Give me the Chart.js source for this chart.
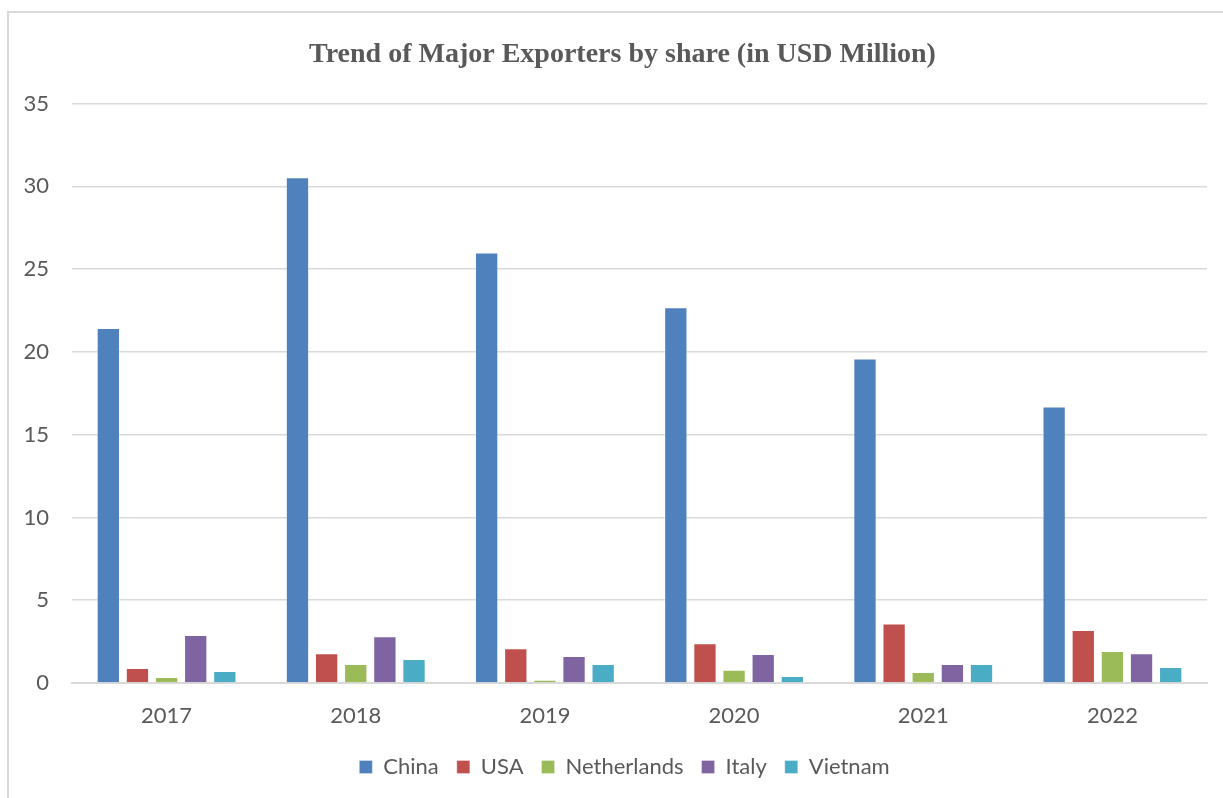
<!DOCTYPE html>
<html>
<head>
<meta charset="utf-8">
<script src="https://cdn.jsdelivr.net/npm/chart.js@4/dist/chart.umd.min.js"></script>
<style>
  html, body { margin: 0; padding: 0; background: #fff; }
  #wrap { position: relative; width: 1223px; height: 798px; overflow: hidden; }
  #frame { position: absolute; left: 7px; top: 11px; width: 1240px; height: 820px; border: 2px solid #d9d9d9; box-sizing: border-box; }
  #chartBox { position: absolute; left: 0; top: 0; width: 1223px; height: 798px; }
</style>
</head>
<body>
<div id="wrap">
  <div id="frame"></div>
  <div id="chartBox"><canvas id="barChart"></canvas></div>
</div>
<script>
var years = ['2017', '2018', '2019', '2020', '2021', '2022'];
var china = [21.45, 30.55, 26.0, 22.7, 19.6, 16.7];
var usa = [0.9, 1.8, 2.1, 2.4, 3.6, 3.2];
var netherlands = [0.36, 1.15, 0.2, 0.8, 0.66, 1.93];
var italy = [2.9, 2.83, 1.63, 1.75, 1.15, 1.8];
var vietnam = [0.73, 1.45, 1.15, 0.42, 1.15, 0.97];
var yTicks = [0, 5, 10, 15, 20, 25, 30, 35];

var grey = '#595959';
var labelFont = "Lato, 'Open Sans', 'Liberation Sans', sans-serif";

function series(label, data, color) {
    return {
        label: label,
        data: data,
        backgroundColor: color,
        borderColor: 'rgba(255,255,255,0.3)',
        borderWidth: 1,
        borderSkipped: 'bottom',
        barPercentage: 0.8,
        categoryPercentage: 0.77
    };
}

// title and legend sit a bit right of centre in the original
var shiftBlocks = {
    id: 'shiftBlocks',
    afterLayout: function (chart) {
        if (chart.titleBlock) {
            chart.titleBlock.left += 17;
            chart.titleBlock.right += 17;
        }
        if (chart.legend) {
            chart.legend.left += 19;
            chart.legend.right += 19;
        }
    }
};

var ctx = document.getElementById('barChart').getContext('2d');
new Chart(ctx, {
    type: 'bar',
    data: {
        labels: years,
        datasets: [
            series('China', china, '#4f81bd'),
            series('USA', usa, '#c0504d'),
            series('Netherlands', netherlands, '#9bbb59'),
            series('Italy', italy, '#8064a2'),
            series('Vietnam', vietnam, '#4bacc6')
        ]
    },
    plugins: [shiftBlocks],
    options: {
        responsive: true,
        maintainAspectRatio: false,
        animation: false,
        layout: {
            padding: { left: 4, right: 16, top: 0, bottom: 10 }
        },
        plugins: {
            title: {
                display: true,
                text: 'Trend of Major Exporters by share (in USD Million)',
                color: grey,
                font: { family: "'Liberation Serif', 'Times New Roman', serif", size: 28, weight: 'bold' },
                padding: { top: 38, bottom: 32 }
            },
            legend: {
                position: 'bottom',
                labels: {
                    color: grey,
                    font: { family: labelFont, size: 22 },
                    boxWidth: 13,
                    boxHeight: 13,
                    padding: 18
                }
            },
            tooltip: { enabled: false }
        },
        scales: {
            x: {
                grid: { display: false, drawTicks: false },
                border: { color: '#d9d9d9', width: 2 },
                ticks: {
                    color: grey,
                    font: { family: labelFont, size: 22 },
                    padding: 20
                },
                afterFit: function (axis) {
                    axis.height = 55;
                }
            },
            y: {
                min: 0,
                max: 35,
                afterBuildTicks: function (axis) {
                    axis.ticks = yTicks.map(function (v) { return { value: v }; });
                },
                afterFit: function (axis) {
                    axis.width = 68;
                },
                grid: { color: '#d9d9d9', lineWidth: 1.5, drawTicks: false },
                border: { display: false },
                ticks: {
                    color: grey,
                    font: { family: labelFont, size: 22 },
                    padding: 23
                }
            }
        }
    }
});
</script>
</body>
</html>
